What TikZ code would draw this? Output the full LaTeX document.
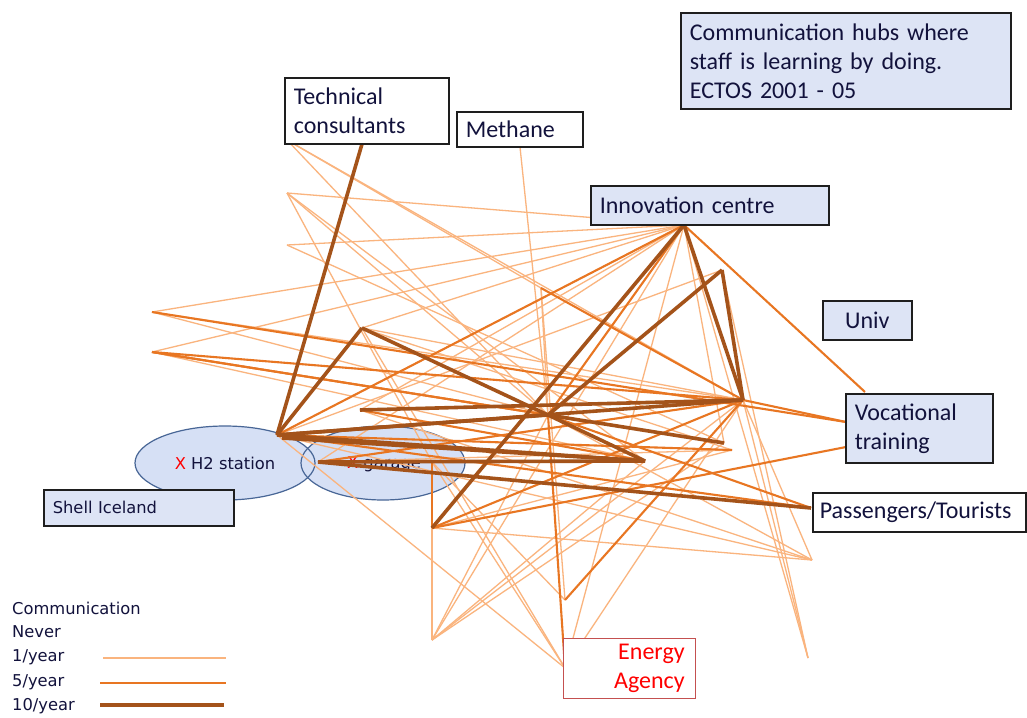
\documentclass[tikz,border=0pt]{standalone}
\usepackage{fontspec}
\setmainfont{Carlito}
\newfontfamily\tahfont{DejaVu Sans}
\definecolor{boxblue}{RGB}{221,228,245}
\definecolor{ellfill}{RGB}{214,224,245}
\definecolor{ellline}{RGB}{72,102,150}
\definecolor{txtc}{RGB}{18,18,60}
\definecolor{lowc}{RGB}{250,180,126}
\definecolor{midc}{RGB}{232,118,34}
\definecolor{highc}{RGB}{164,83,26}
\definecolor{agencyc}{RGB}{196,80,80}
\tikzset{
  wlow/.style={draw=lowc, line width=1.3pt},
  wmid/.style={draw=midc, line width=2.1pt},
  whigh/.style={draw=highc, line width=3.6pt},
  labbox/.style={draw={rgb,255:red,30;green,30;blue,30}, line width=1.6pt, anchor=north west,
    inner xsep=9pt, inner ysep=0pt, align=left, text=txtc,
    font=\fontsize{24}{29}\selectfont},
  smalltxt/.style={text=txtc, font=\tahfont\fontsize{16.3}{18}\selectfont, inner sep=0pt}
}
\begin{document}
\begin{tikzpicture}[x=1pt,y=-1pt]
\useasboundingbox[fill=white] (0,0) rectangle (1027,717);
% ellipses
\fill[ellfill] (225,463) ellipse [x radius=90, y radius=37];
\fill[ellfill] (383,463) ellipse [x radius=82, y radius=37];
\draw[ellline, line width=1.2pt] (225,463) ellipse [x radius=90, y radius=37];
\draw[ellline, line width=1.2pt] (383,463) ellipse [x radius=82, y radius=37];
\node[smalltxt] (h2) at (225,463) {{\color{red}X} H2 station};
\node[smalltxt] (gar) at (384,464) {{\color{red}X} garage};
% vertices of the network
\coordinate (A) at (277,435);
\coordinate (A2) at (282,438);
\coordinate (GL) at (318,462);
\coordinate (G2) at (645,461);
\coordinate (B) at (548,415);
\coordinate (C) at (743,400);
\coordinate (C2) at (724,443);
\coordinate (C4) at (732,450);
\coordinate (D) at (684,225);
\coordinate (TC) at (362,144);
\coordinate (ME) at (520,147);
\coordinate (L1) at (152,312);
\coordinate (L2) at (152,352);
\coordinate (T1) at (287,140);
\coordinate (T2) at (287,193);
\coordinate (T3) at (287,245);
\coordinate (P1) at (362,328);
\coordinate (P2) at (541,288);
\coordinate (P3) at (722,270);
\coordinate (H1) at (360,410);
\coordinate (Q1) at (432,528);
\coordinate (Q2) at (432,640);
\coordinate (Q3) at (432,462);
\coordinate (E1) at (565,668);
\coordinate (E2) at (565,600);
\coordinate (BR) at (808,658);
\coordinate (PA) at (811,508);
\coordinate (PA2) at (812,560);
\coordinate (VT1) at (846,422);
\coordinate (VT2) at (846,447);
\coordinate (VTc) at (865,392);
% 1/year
\foreach \a/\b in {T1/C, T1/B, T2/G2, T2/B, T2/Q3, T3/D, T3/C2, L1/D, L1/B, L1/C,
  L2/D, L2/G2, D/T2, D/A, D/GL, D/H1, D/Q2, D/E1, D/C2, D/BR, D/P1,
  C/Q2, C/E1, C/BR, C/PA2, C/GL, C/P1, C/H1, B/Q2, B/PA2, Q2/C2, Q2/G2,
  E1/A, E1/Q3, BR/P3, PA2/A, PA2/H1, ME/B, P2/B, P2/E2, Q1/Q2, C4/Q1,
  P1/C4, GL/C4, Q1/PA2, E2/Q3, A/P3, T1/P2, P1/E1}
  \draw[wlow] (\a) -- (\b);
% 5/year
\foreach \a/\b in {L1/VT1, L2/C2, L2/B, D/B, B/E1, E2/C, Q1/C, Q1/VT2, D/VTc,
  C/VT1, GL/C, A/PA, P2/C, A/C4, Q3/Q1, B/PA, A/D, H1/G2, L2/C}
  \draw[wmid] (\a) -- (\b);
% 10/year
\foreach \a/\b in {A/TC, A/P1, P1/B, A/B, A/G2, A2/G2, GL/G2, A/C, H1/C, B/G2,
  B/P3, P3/C, D/C, D/Q1, GL/PA, B/C2}
  \draw[whigh] (\a) -- (\b);
% boxes
\node[labbox, fill=boxblue, text width=312pt, minimum height=96pt] (title) at (680,12)
  {Communication hubs where\\staff is learning by doing.\\ECTOS 2001 - 05};
\node[labbox, fill=white, text width=146pt, minimum height=66pt] (tc) at (284,77)
  {Technical\\consultants};
\node[labbox, fill=white, text width=108pt, minimum height=35pt] (meth) at (456,111)
  {Methane};
\node[labbox, fill=boxblue, text width=220pt, minimum height=39pt] (innov) at (590,185)
  {Innovation centre};
\node[labbox, fill=boxblue, text width=71pt, minimum height=39pt, align=center] (univ) at (822,300)
  {Univ};
\node[labbox, fill=boxblue, text width=129pt, minimum height=69pt] (voc) at (845,393)
  {Vocational\\training};
\node[labbox, fill=white, text width=199pt, minimum height=39pt, inner xsep=7pt] (pass) at (812,492)
  {Passengers/Tourists};
\node[labbox, fill=boxblue, text width=172pt, minimum height=36pt,
  font=\tahfont\fontsize{16.3}{18}\selectfont] (shell) at (43,489)
  {Shell Iceland};
\node[labbox, draw=agencyc, line width=1.3pt, fill=white, text=red, text width=110pt,
  minimum height=60pt, align=right, inner xsep=11pt] (energy) at (563,638)
  {Energy\\Agency};
% legend
\node[smalltxt, anchor=west] (lg0) at (12,608) {Communication};
\node[smalltxt, anchor=west] (lg1) at (12,632) {Never};
\node[smalltxt, anchor=west] (lg2) at (12,657) {1/year};
\node[smalltxt, anchor=west] (lg3) at (12,682) {5/year};
\node[smalltxt, anchor=west] (lg4) at (12,706) {10/year};
\coordinate (k1a) at (103,658); \coordinate (k1b) at (226,658);
\coordinate (k2a) at (100,683); \coordinate (k2b) at (226,683);
\coordinate (k3a) at (100,705); \coordinate (k3b) at (224,705);
\draw[wlow] (k1a) -- (k1b);
\draw[wmid] (k2a) -- (k2b);
\draw[whigh] (k3a) -- (k3b);
\end{tikzpicture}
\end{document}
